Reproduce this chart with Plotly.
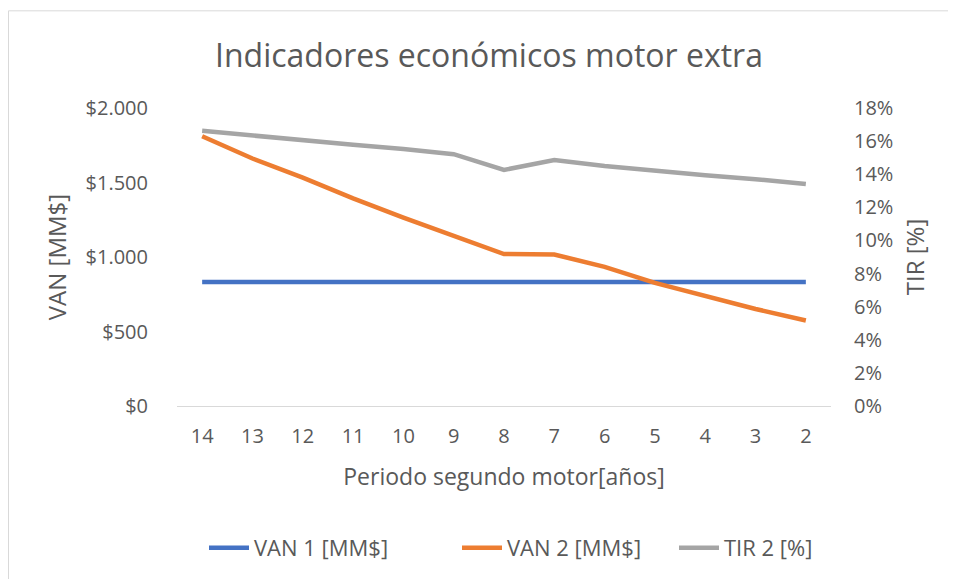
import plotly.graph_objects as go

periods = ["14", "13", "12", "11", "10", "9", "8", "7", "6", "5", "4", "3", "2"]
van1 = [832, 832, 832, 832, 832, 832, 832, 832, 832, 832, 832, 832, 832]
van2 = [1810, 1661, 1533, 1394, 1264, 1145, 1020, 1017, 934, 826, 736, 651, 574]
tir2 = [16.62, 16.32, 16.08, 15.78, 15.52, 15.21, 14.26, 14.86, 14.5, 14.2, 13.94, 13.7, 13.41]

van_ticks = [0, 500, 1000, 1500, 2000]
van_labels = ["$0", "$500", "$1.000", "$1.500", "$2.000"]
tir_ticks = [0, 2, 4, 6, 8, 10, 12, 14, 16, 18]
tir_labels = ["0%", "2%", "4%", "6%", "8%", "10%", "12%", "14%", "16%", "18%"]

FONT = "Open Sans"
GREY = "#595959"

# page has an 8px body margin: figure occupies page x 8..956, y 8..579
W, H = 948, 571
L, R, T, B = 169, 125, 100, 172
PW, PH = W - L - R, H - T - B


def px(xpage):
    return (xpage - 8 - L) / PW


def py(ypage):
    return (T + PH - (ypage - 8)) / PH


fig = go.Figure()
fig.add_trace(go.Scatter(x=periods, y=van1, name="VAN 1 [MM$]", mode="lines", showlegend=True,
                         line=dict(color="#4472C4", width=4.5), yaxis="y", legend="legend"))
fig.add_trace(go.Scatter(x=periods, y=van2, name="VAN 2 [MM$]", mode="lines", showlegend=True,
                         line=dict(color="#ED7D31", width=4.5), yaxis="y", legend="legend2"))
fig.add_trace(go.Scatter(x=periods, y=tir2, name="TIR 2 [%]", mode="lines", showlegend=True,
                         line=dict(color="#A5A5A5", width=4.5), yaxis="y2", legend="legend3"))


def leg(text_start):
    return dict(orientation="h", x=px(text_start - 51), xanchor="left",
                y=py(548), yanchor="middle", font=dict(size=22, color=GREY),
                itemwidth=40, bgcolor="rgba(0,0,0,0)", visible=True)


fig.update_layout(
    width=W, height=H,
    margin=dict(l=L, r=R, t=T, b=B),
    paper_bgcolor="white", plot_bgcolor="white",
    showlegend=True,
    font=dict(family=FONT, color=GREY, size=20),
    title=dict(text="Indicadores económicos motor extra", x=(489 - 8) / W, xanchor="center",
               y=1 - (56 - 8) / H, yanchor="middle", font=dict(size=32, color=GREY, family=FONT)),
    xaxis=dict(type="category", categoryorder="array", categoryarray=periods,
               range=[-0.5, 12.5], showgrid=False, showline=True, linecolor="#D9D9D9",
               linewidth=1, ticks="", ticklabelstandoff=12, zeroline=False,
               tickfont=dict(size=20, color=GREY),
               title=dict(text="Periodo segundo motor[años]", font=dict(size=23, color=GREY),
                          standoff=20)),
    yaxis=dict(range=[0, 2000], tickmode="array", tickvals=van_ticks, ticktext=van_labels,
               showgrid=False, zeroline=False, showline=False, ticks="",
               ticklabelstandoff=28, tickfont=dict(size=20, color=GREY),
               title=dict(text="VAN [MM$]", font=dict(size=24, color=GREY), standoff=12)),
    yaxis2=dict(range=[0, 18], tickmode="array", tickvals=tir_ticks, ticktext=tir_labels,
                overlaying="y", side="right", showgrid=False, zeroline=False, showline=False,
                ticks="", ticklabelstandoff=22, tickfont=dict(size=20, color=GREY),
                title=dict(text="TIR [%]", font=dict(size=24, color=GREY), standoff=14)),
    legend=leg(255),
    legend2=leg(508),
    legend3=leg(725),
    shapes=[dict(type="rect", xref="paper", yref="paper",
                 x0=px(8.5), x1=px(1000), y0=py(650), y1=py(10.5),
                 line=dict(color="#D9D9D9", width=1), fillcolor="rgba(0,0,0,0)", layer="below")],
)

fig.write_html("out.html")
